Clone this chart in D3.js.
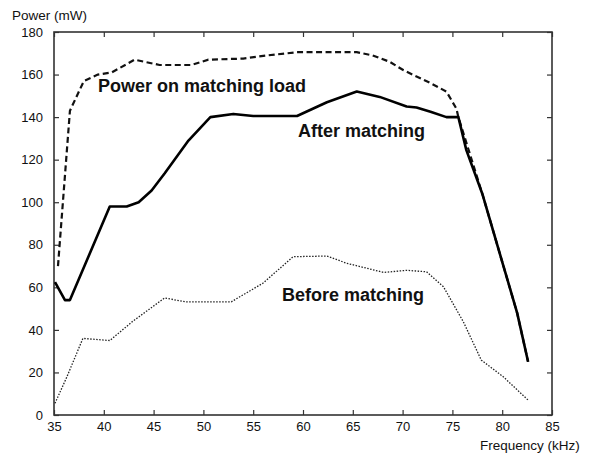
<!DOCTYPE html>
<html>
<head>
<meta charset="utf-8">
<script src="https://cdn.jsdelivr.net/npm/d3@7"></script>
<style>
  html, body { margin: 0; padding: 0; background: #fff; }
  svg { display: block; }
  text { font-family: "Liberation Sans", Arial, Helvetica, sans-serif; fill: #111; }
</style>
</head>
<body>
<svg id="chart" width="590" height="455"></svg>
<script>
// Frequency (kHz) and power (mW) for the three measured curves
const freqMatchedLoad = [35.4, 36.6, 37.1, 38.0, 39.4, 40.8, 43.1, 44.1, 45.6, 48.8, 50.5, 54.0, 56.4, 59.4, 65.4, 67.0, 68.7, 70.1, 72.8, 74.4, 75.4, 75.6, 78.0, 80.0, 81.5, 82.6];
const powerMatchedLoad = [70, 143, 148, 157, 160, 161, 167, 166, 164.5, 164.5, 167, 167.5, 169, 170.5, 170.5, 169, 166, 162, 156, 152, 144, 140, 104, 72, 48, 25];

const freqAfter = [35.1, 36.1, 36.6, 40.6, 42.3, 43.5, 44.8, 46.1, 48.5, 50.7, 53.0, 55.0, 59.4, 62.4, 65.4, 67.7, 70.4, 71.4, 72.8, 74.4, 75.6, 76.4, 78.0, 80.0, 81.5, 82.6];
const powerAfter = [62.5, 54, 54, 98, 98, 100, 105.5, 113.5, 129, 140, 141.5, 140.5, 140.5, 147, 152, 149.5, 145, 144.5, 142.5, 140, 140, 124.5, 104, 72, 48, 25];

const freqBefore = [35.1, 36.3, 37.9, 40.6, 42.9, 46.1, 48.2, 52.8, 56.0, 59.0, 62.4, 64.4, 68.1, 70.4, 72.4, 74.1, 76.1, 77.9, 80.1, 82.6];
const powerBefore = [5.5, 18, 36, 35, 44, 55, 53.2, 53.2, 62, 74.4, 74.7, 71.3, 67, 68, 67.3, 60.3, 43.8, 25.8, 18, 7];

const xTicks = [35, 40, 45, 50, 55, 60, 65, 70, 75, 80, 85];
const yTicks = [0, 20, 40, 60, 80, 100, 120, 140, 160, 180];

const svg = d3.select("#chart");
const plot = { left: 54, right: 552, top: 32, bottom: 415 };

const x = d3.scaleLinear().domain([35, 85]).range([plot.left, plot.right]);
const y = d3.scaleLinear().domain([0, 180]).range([plot.bottom, plot.top]);

const axisColor = "#333";

// Box around the plot area
svg.append("rect")
  .attr("x", plot.left).attr("y", plot.top)
  .attr("width", plot.right - plot.left).attr("height", plot.bottom - plot.top)
  .attr("fill", "none").attr("stroke", axisColor).attr("stroke-width", 1.6);

// Inward ticks on all four sides
const tickLen = 5;
function styleAxis(g) {
  g.select(".domain").remove();
  g.selectAll(".tick line").attr("stroke", axisColor).attr("stroke-width", 1.2);
  g.selectAll(".tick text")
    .style("font-family", "'Liberation Sans', Arial, sans-serif")
    .style("font-size", "13px").attr("fill", "#111");
}

svg.append("g").attr("transform", `translate(0,${plot.bottom})`)
  .call(d3.axisBottom(x).tickValues(xTicks).tickSizeInner(-tickLen).tickSizeOuter(0).tickPadding(7))
  .call(styleAxis);
svg.append("g").attr("transform", `translate(0,${plot.top})`)
  .call(d3.axisTop(x).tickValues(xTicks).tickSizeInner(-tickLen).tickSizeOuter(0).tickFormat(""))
  .call(styleAxis);
svg.append("g").attr("transform", `translate(${plot.left},0)`)
  .call(d3.axisLeft(y).tickValues(yTicks).tickSizeInner(-tickLen).tickSizeOuter(0).tickPadding(11))
  .call(styleAxis);
svg.append("g").attr("transform", `translate(${plot.right},0)`)
  .call(d3.axisRight(y).tickValues(yTicks).tickSizeInner(-tickLen).tickSizeOuter(0).tickFormat(""))
  .call(styleAxis);

// Curves
const line = d3.line().x(d => x(d[0])).y(d => y(d[1]));

svg.append("path")
  .datum(d3.zip(freqBefore, powerBefore))
  .attr("d", line).attr("fill", "none")
  .attr("stroke", "#222").attr("stroke-width", 1.3)
  .attr("stroke-dasharray", "1.5,1.5");

svg.append("path")
  .datum(d3.zip(freqMatchedLoad, powerMatchedLoad))
  .attr("d", line).attr("fill", "none")
  .attr("stroke", "#111").attr("stroke-width", 2.2)
  .attr("stroke-dasharray", "6,3.5");

svg.append("path")
  .datum(d3.zip(freqAfter, powerAfter))
  .attr("d", line).attr("fill", "none")
  .attr("stroke", "#000").attr("stroke-width", 2.6)
  .attr("stroke-linejoin", "round");

// Curve labels
const labelStyle = sel => sel.attr("font-size", 18).attr("font-weight", "bold");
svg.append("text").attr("x", 98).attr("y", 92).text("Power on matching load").call(labelStyle);
svg.append("text").attr("x", 298).attr("y", 137).text("After matching").call(labelStyle);
svg.append("text").attr("x", 282).attr("y", 301).text("Before matching").call(labelStyle);

// Axis titles
svg.append("text").attr("x", 480).attr("y", 450).attr("font-size", 13.5).text("Frequency (kHz)");
svg.append("text").attr("x", 12).attr("y", 20).attr("font-size", 13.5).text("Power (mW)");
</script>
</body>
</html>
